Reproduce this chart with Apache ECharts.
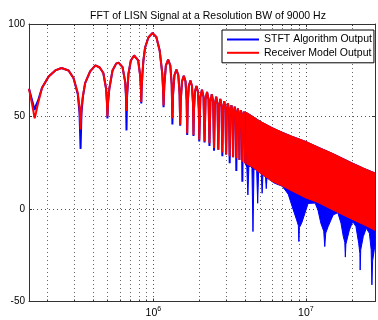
<!DOCTYPE html>
<html><head><meta charset="utf-8">
<script src="https://cdn.jsdelivr.net/npm/echarts@6/dist/echarts.min.js"></script>
<style>html,body{margin:0;padding:0;background:#fff}#c{width:378px;height:320px}</style>
</head><body><div id="c"></div>
<script>
// ---- data (frequency in Hz, level in dB) ----
const lobeFreq = [
  1.53e5, 1.60e5, 1.667e5,
  1.70e5, 1.753e5, 1.862e5, 2.058e5, 2.276e5, 2.5e5, 2.78e5, 2.995e5, 3.197e5, 3.28e5, 3.333e5,
  3.38e5, 3.45e5, 3.57e5, 3.85e5, 4.17e5, 4.45e5, 4.7e5, 4.9e5, 4.96e5, 5.0e5,
  5.05e5, 5.144e5, 5.40e5, 5.7e5, 5.91e5, 6.28e5, 6.54e5, 6.62e5, 6.667e5,
  6.72e5, 6.87e5, 7.12e5, 7.48e5, 7.95e5, 8.2e5, 8.29e5, 8.333e5,
  8.38e5, 8.48e5, 8.6e5, 8.83e5, 9.28e5, 9.85e5, 1.0e6, 1.046e6, 1.1e6, 1.145e6, 1.158e6, 1.1667e6,
  1.18e6, 1.208e6, 1.25e6, 1.292e6, 1.32e6, 1.3333e6,
  1.3467e6, 1.375e6, 1.4167e6, 1.458e6, 1.4867e6, 1.5e6,
  1.5133e6, 1.5417e6, 1.5833e6, 1.625e6, 1.6533e6, 1.6667e6,
  1.68e6, 1.7083e6, 1.75e6, 1.7917e6, 1.82e6, 1.8333e6,
  1.8467e6, 1.875e6, 1.9167e6, 1.9583e6, 1.9867e6, 2.0e6,
  2.0333e6, 2.0833e6, 2.1333e6, 2.1667e6,
  2.2e6, 2.25e6, 2.3e6, 2.3333e6,
  2.3667e6, 2.4167e6, 2.4667e6, 2.5e6,
  2.5333e6, 2.5833e6, 2.6333e6, 2.6667e6,
  2.7e6, 2.75e6, 2.8e6, 2.8333e6,
  2.8667e6, 2.9167e6, 2.9667e6, 3.0e6,
  3.0333e6, 3.0833e6, 3.1333e6, 3.1667e6,
  3.2e6, 3.25e6, 3.3e6, 3.3333e6,
  3.3667e6, 3.4167e6, 3.4667e6, 3.5e6,
  3.5333e6, 3.5833e6, 3.6333e6, 3.6667e6,
  3.7e6, 3.75e6, 3.8e6, 3.8333e6,
  3.8667e6, 3.9167e6, 3.9667e6, 4.0e6
];
const redLobe = [
  65, 57, 49,
  52, 57, 65.4, 71.6, 74.9, 76.2, 74.9, 70.8, 62.7, 55, 43,
  55, 61, 68, 74.4, 77.6, 76.5, 73.5, 65, 58, 50,
  58, 65, 74.9, 78.6, 79.1, 76.7, 68.6, 62, 53,
  62, 73.1, 80.3, 83, 80.3, 72, 65, 57.8,
  65, 73, 80, 87.3, 92.7, 95.1, 95.2, 93, 85.7, 73, 65, 56,
  67, 77.5, 80.7, 77.5, 67, 49,
  62, 72.3, 75.3, 72.3, 62, 45.5,
  59, 69, 72, 69, 59, 41,
  57, 66.5, 69.5, 66.5, 57, 40,
  54, 63.5, 66.5, 63.5, 54, 37.5,
  60.5, 64.5, 60.5, 36.5,
  59.3, 63.3, 59.3, 35.5,
  58, 62, 58, 33,
  56.7, 60.7, 56.7, 32,
  55.5, 59.5, 55.5, 30.5,
  54.3, 58.3, 54.3, 29.5,
  53.2, 57.2, 53.2, 28.5,
  52.2, 56.2, 52.2, 28,
  51.3, 55.3, 51.3, 27.5,
  50.4, 54.4, 50.4, 26.5,
  49.5, 53.5, 49.5, 25.5,
  48.6, 52.6, 48.6, 24.8
];
const blueLobe = [
  65, 59, 53.5,
  56, 58.5, 65.5, 71.6, 74.9, 76.2, 74.9, 70.8, 62, 52, 32.5,
  52, 60.5, 68, 74.4, 77.6, 76.5, 73.5, 65, 58, 49,
  58, 65, 74.9, 78.6, 79.1, 76.7, 68.6, 60, 42.5,
  60, 73.1, 80.3, 83, 80.3, 72, 65, 57,
  65, 73, 80, 87.3, 92.7, 95.1, 95.2, 93, 85.7, 73, 65, 55,
  67, 77.5, 80.7, 77.5, 67, 45.7,
  62, 72.3, 75.3, 72.3, 62, 45,
  59, 69, 72, 69, 59, 40,
  57, 66.5, 69.5, 66.5, 57, 39.5,
  54, 63.5, 66.5, 63.5, 54, 36.5,
  60.5, 64.5, 60.5, 36,
  59.3, 63.3, 59.3, 34,
  58, 62, 58, 31.5,
  56.7, 60.7, 56.7, 32,
  55.5, 59.5, 55.5, 28.5,
  54.3, 58.3, 54.3, 29.5,
  53.2, 57.2, 53.2, 24.8,
  52.2, 56.2, 52.2, 28,
  51.3, 55.3, 51.3, 20.5,
  50.4, 54.4, 50.4, 26.5,
  49.5, 53.5, 49.5, 14.8,
  48.6, 52.6, 48.6, 24.8
];
// dense part: envelope of the receiver-model band
const bandFreq  = [4.0e6, 4.5e6, 5e6, 6e6, 7e6, 8e6, 1e7, 1.2e7, 1.5e7, 2e7, 2.4e7, 2.84e7];
const redTop    = [52.6, 50, 47.5, 44, 41.5, 39.5, 36.5, 33.5, 30, 25, 22, 19.5];
const redBottom = [24.8, 22.5, 19.5, 15, 12.5, 10, 6, 3.5, -0.5, -5.5, -8.5, -11.5];
// dense part: lower edge of the STFT output
const blueEnvFreq = [
  4.0e6, 4.1e6, 4.167e6, 4.23e6, 4.333e6, 4.43e6, 4.5e6, 4.57e6, 4.667e6, 4.76e6, 4.833e6, 4.9e6,
  5.0e6, 5.1e6, 5.167e6, 5.23e6, 5.333e6, 5.44e6, 5.5e6, 5.56e6, 5.667e6, 6.2e6, 7.0e6, 7.66e6,
  8.27e6, 8.7e6, 8.93e6, 9.0e6, 9.07e6, 9.38e6, 9.86e6, 1.034e7, 1.15e7, 1.2e7, 1.254e7, 1.31e7,
  1.33e7, 1.35e7, 1.40e7, 1.51e7, 1.62e7, 1.70e7, 1.76e7, 1.80e7, 1.815e7, 1.83e7, 1.93e7, 2.03e7,
  2.13e7, 2.22e7, 2.26e7, 2.27e7, 2.29e7, 2.38e7, 2.49e7, 2.61e7, 2.68e7, 2.71e7, 2.74e7, 2.81e7, 2.84e7
];
const blueEnvLow = [
  24.8, 22.5, 7.6, 22.8, 23.3, 22, -12.2, 21.5, 21.5, 20.5, 3.1, 20,
  19.5, 18.8, 8.5, 18.2, 17.8, 17.3, 11, 16.8, 16.3, 14, 12.3, 8,
  -0.5, -5.9, -9, -17.6, -10, -7.7, -2.3, 3, 3.2, -0.5, -7.7, -12,
  -20.3, -13, -9.5, -3.2, -2, -7.7, -14.9, -18, -26, -19, -11.3, -6.8,
  -9.5, -18.5, -24, -33, -22, -14.9, -10.4, -13.1, -22, -41, -28, -22, -20
];
const minorTicksX = [2e5,3e5,4e5,5e5,6e5,7e5,8e5,9e5,2e6,3e6,4e6,5e6,6e6,7e6,8e6,9e6,2e7];
const yTicks = [-50, 0, 50, 100];
const seriesNames = ['STFT Algorithm Output', 'Receiver Model Output'];
const titleText = 'FFT of LISN Signal at a Resolution BW of 9000 Hz';

// ---- chart ----
const FONT = '"Liberation Sans", Arial, Helvetica, sans-serif';
const X_MIN = 1.53e5, X_MAX = 2.84e7;
const chart = echarts.init(document.getElementById('c'), null, {renderer: 'canvas', width: 378, height: 320});

function bandPolygon(lowF, lowV, upF, upV, color) {
  return function (params, api) {
    const pts = [];
    for (let i = 0; i < lowF.length; i++) pts.push(api.coord([lowF[i], lowV[i]]));
    for (let i = upF.length - 1; i >= 0; i--) pts.push(api.coord([upF[i], upV[i]]));
    return {type: 'polygon', shape: {points: pts}, style: {fill: color, stroke: color, lineWidth: 1}};
  };
}

const axisColor = '#333';
const dotted = {type: [1, 3], color: '#555', width: 1};

chart.setOption({
  animation: false,
  backgroundColor: '#fff',
  title: {
    text: titleText, left: 203, top: 6, textAlign: 'center',
    textStyle: {fontSize: 10.5, fontWeight: 'normal', color: '#000', fontFamily: FONT}
  },
  legend: {
    data: seriesNames, orient: 'vertical', left: 222, top: 30,
    icon: 'rect', itemWidth: 32, itemHeight: 2, itemGap: 0.3,
    padding: [3, 2, 3.5, 5], borderColor: '#000', borderWidth: 1, borderRadius: 0,
    backgroundColor: '#fff', selectedMode: false,
    textStyle: {fontSize: 10.5, color: '#000', fontFamily: FONT, lineHeight: 13}
  },
  grid: {left: 29, right: 1, top: 24, bottom: 18.5, show: false},
  xAxis: [{
    type: 'log', logBase: 10, min: X_MIN, max: X_MAX,
    axisLine: {show: true, onZero: false, lineStyle: {color: axisColor}},
    axisTick: {show: true, inside: true, length: 3, lineStyle: {color: axisColor}},
    splitLine: {show: true, lineStyle: dotted},
    minorTick: {show: false}, minorSplitLine: {show: false},
    axisLabel: {
      margin: 4,
      formatter: function (v) {
        const e = Math.log10(v), r = Math.round(e);
        return Math.abs(e - r) < 1e-6 ? '{b|10}{s|' + r + '}' : '';
      },
      rich: {
        b: {fontSize: 10.5, color: '#000', fontFamily: FONT, lineHeight: 15},
        s: {fontSize: 7, color: '#000', fontFamily: FONT, lineHeight: 15, verticalAlign: 'top'}
      }
    }
  }, {
    type: 'log', logBase: 10, min: X_MIN, max: X_MAX, position: 'top',
    axisLine: {show: true, onZero: false, lineStyle: {color: axisColor}},
    axisTick: {show: true, inside: true, length: 3, lineStyle: {color: axisColor}},
    axisLabel: {show: false}, splitLine: {show: false}
  }],
  yAxis: [{
    type: 'value', min: yTicks[0], max: yTicks[yTicks.length - 1], interval: 50,
    axisLine: {show: true, onZero: false, lineStyle: {color: axisColor}},
    axisTick: {show: true, inside: true, length: 3, lineStyle: {color: axisColor}},
    splitLine: {show: true, lineStyle: dotted},
    axisLabel: {margin: 4, fontSize: 10, color: '#000', fontFamily: FONT}
  }, {
    type: 'value', min: yTicks[0], max: yTicks[yTicks.length - 1], interval: 50, position: 'right',
    axisLine: {show: true, onZero: false, lineStyle: {color: axisColor}},
    axisTick: {show: true, inside: true, length: 3, lineStyle: {color: axisColor}},
    splitLine: {show: false}, axisLabel: {show: false}
  }],
  series: [
    {
      type: 'custom', name: 'minorGrid', silent: true, xAxisIndex: 0, yAxisIndex: 0,
      data: minorTicksX.map(v => [v, 0]),
      renderItem: function (params, api) {
        const cs = params.coordSys;
        const x = Math.round(api.coord([api.value(0), 0])[0]) + 0.5;
        const t = cs.y, b = cs.y + cs.height;
        return {type: 'group', children: [
          {type: 'line', shape: {x1: x, y1: t, x2: x, y2: b}, style: {stroke: '#666', lineWidth: 1, lineDash: [1, 3]}},
          {type: 'line', shape: {x1: x, y1: b - 2, x2: x, y2: b}, style: {stroke: axisColor, lineWidth: 1}},
          {type: 'line', shape: {x1: x, y1: t, x2: x, y2: t + 2}, style: {stroke: axisColor, lineWidth: 1}}
        ]};
      }
    },
    {
      type: 'line', name: seriesNames[0], showSymbol: false, symbol: 'none',
      data: lobeFreq.map((f, i) => [f, blueLobe[i]]),
      lineStyle: {color: '#0000ff', width: 2}, itemStyle: {color: '#0000ff'}
    },
    {
      type: 'custom', name: 'stftDense', silent: true,
      data: [[bandFreq[0], redTop[0]]],
      renderItem: bandPolygon(blueEnvFreq, blueEnvLow, bandFreq, redTop, '#0000ff')
    },
    {
      type: 'line', name: seriesNames[1], showSymbol: false, symbol: 'none',
      data: lobeFreq.map((f, i) => [f, redLobe[i]]),
      lineStyle: {color: '#ff0000', width: 2}, itemStyle: {color: '#ff0000'}
    },
    {
      type: 'custom', name: 'rxDense', silent: true,
      data: [[bandFreq[0], redTop[0]]],
      renderItem: bandPolygon(bandFreq, redBottom, bandFreq, redTop, '#ff0000')
    }
  ]
});
</script>
</body></html>
